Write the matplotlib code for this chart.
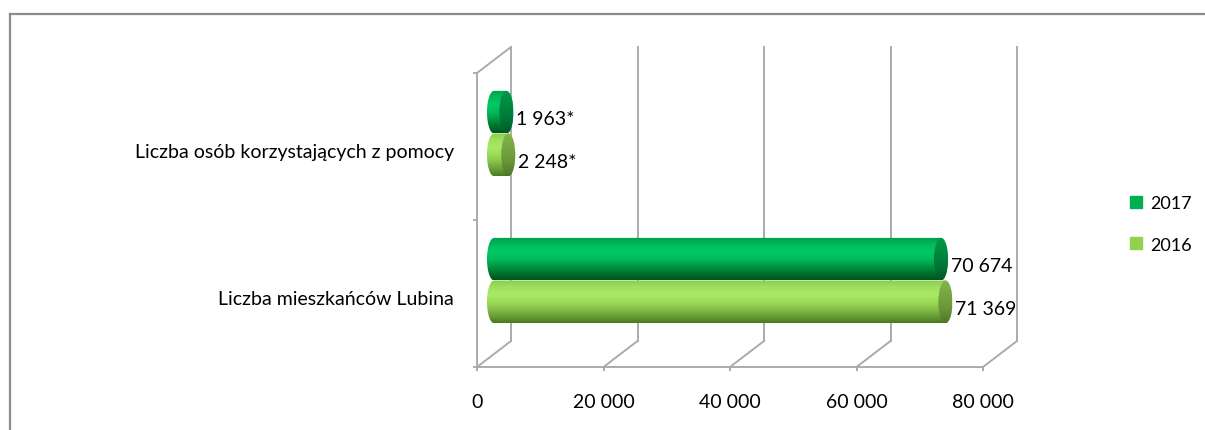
import numpy as np
import matplotlib
matplotlib.use('Agg')
import matplotlib.pyplot as plt
from matplotlib.lines import Line2D
from matplotlib.path import Path
from matplotlib.patches import PathPatch, Ellipse
from matplotlib.colors import LinearSegmentedColormap
from matplotlib.transforms import ScaledTranslation

plt.rcParams['font.family'] = ['Lato', 'DejaVu Sans']

categories = ['Liczba mieszkańców Lubina', 'Liczba osób korzystających z pomocy']
years = ['2017', '2016']
values_2017 = [70674, 1963]
values_2016 = [71369, 2248]
value_labels_2017 = ['70 674', '1 963*']
value_labels_2016 = ['71 369', '2 248*']
x_ticks = [0, 20000, 40000, 60000, 80000]
x_tick_labels = ['0', '20 000', '40 000', '60 000', '80 000']

W, H = 1205, 431
DPI = 100
GRID = '#ababab'
FS = 14

# body / cap gradients, bottom -> top
BODY = {
    '2017': ['#00521f', '#00732f', '#009a45', '#00bb5c', '#00c965', '#00b85a', '#00a04a'],
    '2016': ['#4a7a22', '#6a9f36', '#86c249', '#9ddc5a', '#a8e964', '#9fe05e', '#8ccc4e'],
}
CAP = {
    '2017': ['#005a25', '#00763a', '#008a3f', '#009a48'],
    '2016': ['#4f7626', '#6a9538', '#78a544', '#86b64c'],
}
LEGEND_COLORS = {'2017': '#00b050', '2016': '#92d050'}

fig = plt.figure(figsize=(W / DPI, H / DPI), dpi=DPI)
fig.patch.set_facecolor('white')

ax_l, ax_r, ax_top, ax_bot = 477, 983, 74, 368
ax = fig.add_axes([ax_l / W, 1 - ax_bot / H, (ax_r - ax_l) / W, (ax_bot - ax_top) / H])
ax.set_xlim(0, 80000)
ax.set_ylim(-0.5, 1.5)
ax.patch.set_alpha(0)

# depth offset (pixels) converted to data units
px_x = 80000 / (ax_r - ax_l)
px_y = 2.0 / (ax_bot - ax_top)
DX, DY = 34 * px_x, 26 * px_y
HDX, HDY = DX / 2, DY / 2
cap_w = 14 * px_x
bar_h = 0.29

# back wall + floor
for v in x_ticks:
    ax.plot([v + DX, v + DX], [-0.5 + DY, 1.5 + DY], color=GRID, lw=1.4,
            clip_on=False, zorder=1)
    ax.plot([v, v + DX], [-0.5, -0.5 + DY], color=GRID, lw=1.4,
            clip_on=False, zorder=1)
ax.plot([0, DX], [1.5, 1.5 + DY], color=GRID, lw=1.4, clip_on=False, zorder=1)

for s in ['top', 'right']:
    ax.spines[s].set_visible(False)
for s in ['left', 'bottom']:
    ax.spines[s].set_color(GRID)
    ax.spines[s].set_linewidth(1.4)

ax.set_xticks(x_ticks)
ax.set_xticklabels(x_tick_labels, fontsize=FS)
ax.tick_params(axis='x', length=3, color=GRID, width=1.4, pad=16)
ax.set_yticks([0, 1])
ax.set_yticklabels(categories, fontsize=FS)
ax.tick_params(axis='y', length=0, pad=16.5)
ax.set_yticks([-0.5, 0.5, 1.5], minor=True)
ax.tick_params(axis='y', which='minor', length=3, color=GRID, width=1.4)
shift = ScaledTranslation(0, -4 / DPI, fig.dpi_scale_trans)
for t in ax.get_yticklabels():
    t.set_transform(t.get_transform() + shift)


def stadium(x0, x1, yc, h, w, n=40):
    th = np.linspace(np.pi / 2, 3 * np.pi / 2, n)
    left = np.c_[x0 + w / 2 * np.cos(th), yc + h / 2 * np.sin(th)]
    th2 = np.linspace(-np.pi / 2, np.pi / 2, n)
    right = np.c_[x1 + w / 2 * np.cos(th2), yc + h / 2 * np.sin(th2)]
    pts = np.vstack([left, right, left[:1]])
    return Path(pts, closed=True)


def gradient_fill(colors, extent, clip_patch, z):
    cmap = LinearSegmentedColormap.from_list('g', colors)
    grad = np.linspace(0, 1, 200).reshape(-1, 1)
    im = ax.imshow(grad, cmap=cmap, extent=extent, origin='lower',
                   aspect='auto', interpolation='bicubic', zorder=z)
    ax.add_patch(clip_patch)
    im.set_clip_path(clip_patch)
    return im


def cylinder(v, yc, year, label):
    x0, x1 = HDX, v + HDX
    y = yc + HDY
    path = stadium(x0, x1, y, bar_h, cap_w)
    body = PathPatch(path, facecolor='none', edgecolor='none', zorder=3)
    gradient_fill(BODY[year], [x0 - cap_w / 2, x1 + cap_w / 2,
                               y - bar_h / 2, y + bar_h / 2], body, 3)
    cap = Ellipse((x1, y), cap_w, bar_h, facecolor='none', edgecolor='none', zorder=4)
    gradient_fill(CAP[year], [x1 - cap_w / 2, x1 + cap_w / 2,
                              y - bar_h / 2, y + bar_h / 2], cap, 4)
    ax.annotate(label, (x1 + cap_w / 2, y), xytext=(2, -4.5),
                textcoords='offset points', ha='left', va='center',
                fontsize=FS, annotation_clip=False, zorder=5)


for i in range(len(categories)):
    cylinder(values_2017[i], i + 0.145, '2017', value_labels_2017[i])
    cylinder(values_2016[i], i - 0.145, '2016', value_labels_2016[i])

ax.set_xlim(0, 80000)
ax.set_ylim(-0.5, 1.5)

handles = [Line2D([], [], marker='s', ls='none', markersize=8,
                  color=LEGEND_COLORS[y]) for y in years]
fig.legend(handles, years, loc='center left',
           bbox_to_anchor=(1113 / W, 1 - 225 / H), frameon=False,
           fontsize=13, labelspacing=1.4, handlelength=0.8,
           handletextpad=0.35)

# outer frame (cropped chart border)
fig.add_artist(Line2D([10 / W, 1], [1 - 15 / H, 1 - 15 / H],
                      transform=fig.transFigure, color='#8c8c8c', lw=1.6))
fig.add_artist(Line2D([10 / W, 10 / W], [0, 1 - 15 / H],
                      transform=fig.transFigure, color='#8c8c8c', lw=1.6))

fig.savefig('out.png', dpi=DPI, facecolor='white')
